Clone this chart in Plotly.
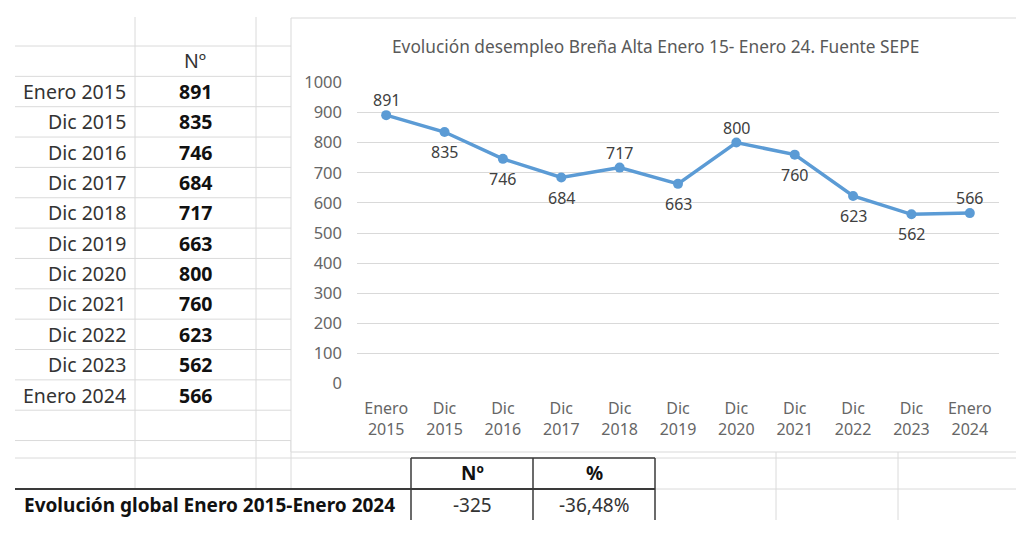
import plotly.graph_objects as go

# data read from the sheet / chart
categories = ["Enero 2015", "Dic 2015", "Dic 2016", "Dic 2017", "Dic 2018", "Dic 2019",
              "Dic 2020", "Dic 2021", "Dic 2022", "Dic 2023", "Enero 2024"]
tick_labels = ["Enero<br>2015", "Dic<br>2015", "Dic<br>2016", "Dic<br>2017", "Dic<br>2018",
               "Dic<br>2019", "Dic<br>2020", "Dic<br>2021", "Dic<br>2022", "Dic<br>2023",
               "Enero<br>2024"]
paro = [891, 835, 746, 684, 717, 663, 800, 760, 623, 562, 566]
y_ticks = list(range(0, 1001, 100))

# data label side (1 = above, -1 = below)
label_side = [1, -1, -1, -1, 1, -1, 1, -1, -1, -1, 1]

FONT = "Noto Sans"
BLUE = "#5B9BD5"
GRID = "#D9D9D9"
SHEET = "#DADADA"
DARK = "#3a3a3a"

# page is 1024x555, the html body adds an 8px margin
PAGE_W, PAGE_H, OFF = 1024, 555, 8
# plot area in page pixels, everything else is placed relative to it
L, R, T, B = 357, 999, 82, 384


def px(x):
    return (x - L) / (R - L)


def py(y):
    return (B - y) / (B - T)


shapes = []


def hline(y, x0, x1, color=SHEET, width=1):
    shapes.append(dict(type="line", xref="paper", yref="paper", layer="below",
                       x0=px(x0), x1=px(x1), y0=py(y), y1=py(y),
                       line=dict(color=color, width=width)))


def vline(x, y0, y1, color=SHEET, width=1):
    shapes.append(dict(type="line", xref="paper", yref="paper", layer="below",
                       x0=px(x), x1=px(x), y0=py(y0), y1=py(y1),
                       line=dict(color=color, width=width)))


def label(x, y, text, size, color="#222", xanchor="center"):
    return dict(x=px(x), y=py(y), xref="paper", yref="paper", showarrow=False,
                xanchor=xanchor, yanchor="middle", text=text,
                font=dict(family=FONT, size=size, color=color))


# excel sheet grid
row_h = 30.35
for k in range(14):
    hline(46 + k * row_h, 15, 291)
hline(458, 15, 1030)
hline(489, 655, 1030)
vline(135, 17, 489)
vline(256, 17, 489)
vline(291, 440, 489)
for xv in [776, 898, 1019]:
    vline(xv, 452, 520)

# chart area
shapes.append(dict(type="rect", xref="paper", yref="paper", layer="below",
                   x0=px(291), x1=px(1040), y0=py(18), y1=py(452),
                   fillcolor="white", line=dict(color=GRID, width=1)))

# summary box
hline(489, 15, 655, color=DARK, width=2)
hline(458, 411, 655, color=DARK, width=1.5)
for xv in [411, 533, 655]:
    vline(xv, 458, 520, color=DARK, width=1.5)

fig = go.Figure()
fig.add_trace(go.Scatter(
    x=categories, y=paro, mode="lines+markers",
    line=dict(color=BLUE, width=3.5),
    marker=dict(color=BLUE, size=10),
    hoverinfo="x+y", showlegend=False,
))

annotations = []
for cat, v, side in zip(categories, paro, label_side):
    annotations.append(dict(x=cat, y=v, xref="x", yref="y", text=str(v), showarrow=False,
                            yanchor="middle", yshift=15 if side > 0 else -20,
                            font=dict(family=FONT, size=16, color="#404040")))

annotations.append(label(655, 47, "Evolución desempleo Breña Alta Enero 15- Enero 24. Fuente SEPE",
                         17.3, color="#595959"))

# left table
annotations.append(label(195, 61, "Nº", 19.5, color="#333"))
for i, (cat, v) in enumerate(zip(categories, paro)):
    yc = 46 + (i + 1.5) * row_h
    annotations.append(label(128, yc, cat, 19.5, color="#333", xanchor="right"))
    annotations.append(label(195, yc, "<b>%d</b>" % v, 19.5, color="#111"))

# global evolution
diff = paro[-1] - paro[0]
pct = diff / paro[0] * 100
pct_txt = ("%.2f%%" % pct).replace(".", ",")
annotations += [
    label(22, 505, "<b>Evolución global Enero 2015-Enero 2024</b>", 19, color="#111",
          xanchor="left"),
    label(472, 473, "<b>Nº</b>", 19, color="#111"),
    label(594, 473, "<b>%</b>", 19, color="#111"),
    label(472, 505, str(diff), 19, color="#333"),
    label(594, 505, pct_txt, 19, color="#333"),
]

fig.update_layout(
    width=PAGE_W - OFF, height=PAGE_H - OFF,
    margin=dict(l=L - OFF, r=PAGE_W - R, t=T - OFF, b=PAGE_H - B, pad=0),
    paper_bgcolor="white", plot_bgcolor="rgba(0,0,0,0)",
    font=dict(family=FONT, color="#595959"),
    shapes=shapes, annotations=annotations,
    xaxis=dict(range=[-0.5, 10.5], tickmode="array", tickvals=categories, ticktext=tick_labels,
               showgrid=False, zeroline=False, showline=False, ticks="",
               ticklabelstandoff=13, tickfont=dict(family=FONT, size=16, color="#666666")),
    yaxis=dict(range=[-1, 1001], tickvals=y_ticks, showgrid=True, gridcolor=GRID, gridwidth=1,
               zeroline=False, showline=False, ticks="", ticklabelstandoff=14,
               tickfont=dict(family=FONT, size=16.5, color="#666666")),
)

fig.write_html("out.html")
